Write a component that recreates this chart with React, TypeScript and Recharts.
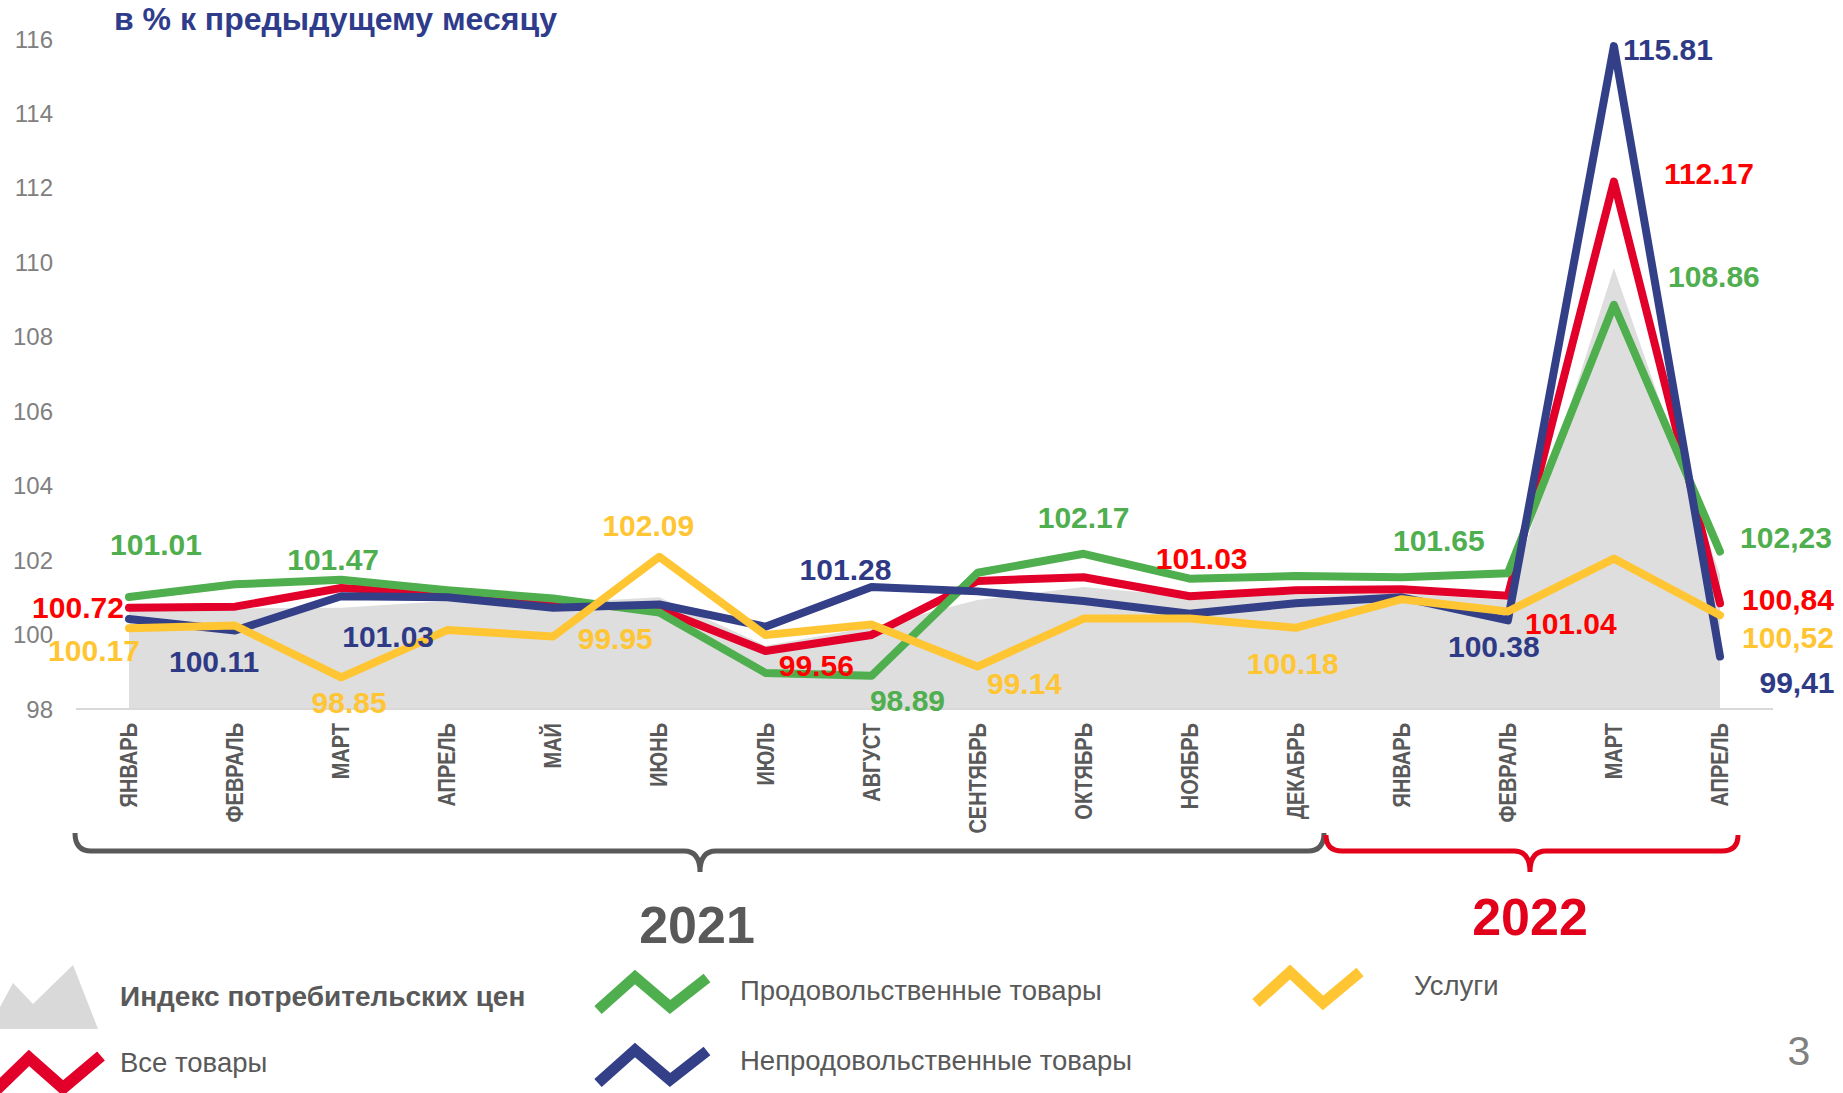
import React from "react";
import { ComposedChart, Area, Line, XAxis, YAxis, LabelList } from "recharts";

// ─── Данные: индексы цен, в % к предыдущему месяцу ───
const months = [
  "ЯНВАРЬ", "ФЕВРАЛЬ", "МАРТ", "АПРЕЛЬ", "МАЙ", "ИЮНЬ", "ИЮЛЬ", "АВГУСТ",
  "СЕНТЯБРЬ", "ОКТЯБРЬ", "НОЯБРЬ", "ДЕКАБРЬ", "ЯНВАРЬ", "ФЕВРАЛЬ", "МАРТ", "АПРЕЛЬ",
];
const cpi = [100.67, 100.7, 100.72, 100.9, 100.85, 101.0, 99.7, 100.2, 100.93, 101.28, 101.02, 101.07, 101.1, 100.92, 109.85, 101.6];
const allGoods = [100.72, 100.75, 101.25, 101.1, 100.87, 100.68, 99.56, 99.99, 101.44, 101.54, 101.03, 101.19, 101.22, 101.04, 112.17, 100.84];
const food = [101.01, 101.35, 101.47, 101.19, 100.97, 100.59, 98.97, 98.89, 101.66, 102.17, 101.5, 101.57, 101.54, 101.65, 108.86, 102.23];
const nonFood = [100.42, 100.11, 101.03, 101.0, 100.72, 100.81, 100.21, 101.28, 101.16, 100.9, 100.56, 100.84, 101.0, 100.38, 115.81, 99.41];
const services = [100.17, 100.24, 98.85, 100.12, 99.95, 102.09, 99.99, 100.27, 99.14, 100.43, 100.43, 100.18, 100.95, 100.62, 102.04, 100.52];
const yTicks = [98, 100, 102, 104, 106, 108, 110, 112, 114, 116];

// подписи значений (null — без подписи)
const foodLabels = ["101.01", null, "101.47", null, null, null, null, "98.89", null, "102.17", null, null, null, "101.65", "108.86", "102,23"];
const goodsLabels = ["100.72", null, null, null, null, null, "99.56", null, null, null, "101.03", null, null, "101.04", "112.17", "100,84"];
const nonFoodLabels = [null, "100.11", "101.03", null, null, null, null, "101.28", null, null, null, null, null, "100.38", "115.81", "99,41"];
const servicesLabels = ["100.17", null, "98.85", null, "99.95", "102.09", null, null, "99.14", null, null, "100.18", null, null, null, "100,52"];

const data = months.map((month, i) => ({
  month,
  cpi: cpi[i],
  allGoods: allGoods[i],
  food: food[i],
  nonFood: nonFood[i],
  services: services[i],
}));

// ─── Стили ───
const FONT = "'Liberation Sans', Arial, sans-serif";
const COLORS = {
  cpi: "#dedede",
  red: "#e2002a",
  redText: "#ff0000",
  green: "#4fae4e",
  blue: "#333f87",
  yellow: "#ffc533",
  axisText: "#808080",
  tickText: "#595959",
};

// смещения подписей относительно точки (dx, dy)
const OFFSETS: Record<string, Record<number, [number, number]>> = {
  food: { 0: [27, -52], 2: [-8, -20], 7: [36, 25], 9: [0, -36], 13: [-69, -33], 14: [100, -28], 15: [66, -14] },
  allGoods: { 0: [-51, 0], 6: [51, 15], 10: [12, -38], 13: [63, 28], 14: [95, -8], 15: [68, -4] },
  nonFood: { 1: [-21, 31], 2: [47, 40], 7: [-26, -17], 13: [-14, 26], 14: [54, 3], 15: [77, 26] },
  services: { 0: [-35, 22], 2: [8, 25], 4: [62, 2], 5: [-11, -31], 8: [47, 17], 11: [-3, 36], 15: [68, 22] },
};

const makeLabel = (texts: (string | null)[], key: string, color: string) => (props: any) => {
  const { x, y, index } = props;
  const text = texts[index];
  if (!text) return null;
  const [dx, dy] = OFFSETS[key][index] || [0, -30];
  return (
    <text
      x={x + dx}
      y={y + dy}
      textAnchor="middle"
      dominantBaseline="central"
      fill={color}
      fontFamily={FONT}
      fontWeight="bold"
      fontSize={30}
    >
      {text}
    </text>
  );
};

const MonthTick = (props: any) => {
  const { x, y, payload } = props;
  return (
    <g transform={`translate(${x},${y}) rotate(-90)`}>
      <text
        transform="scale(1,1.2)"
        textAnchor="end"
        dominantBaseline="central"
        fill={COLORS.tickText}
        fontFamily={FONT}
        fontWeight="bold"
        fontSize={20}
      >
        {payload.value}
      </text>
    </g>
  );
};

const brace = (x0: number, x1: number, tip: number, yTop: number, yh: number, yTip: number) =>
  `M${x0},${yTop} Q${x0},${yh} ${x0 + 16},${yh} L${tip - 16},${yh} Q${tip},${yh} ${tip},${yTip} ` +
  `Q${tip},${yh} ${tip + 16},${yh} L${x1 - 16},${yh} Q${x1},${yh} ${x1},${yTop}`;

function Overlay() {
  const legendText = { fontFamily: FONT, fontSize: 27.5, fill: COLORS.tickText };
  return (
    <svg
      width={1843}
      height={1093}
      style={{ position: "absolute", left: 0, top: 0, pointerEvents: "none" }}
    >
      <text x={114} y={30} fontFamily={FONT} fontWeight="bold" fontSize={32} fill="#2f3c8c">
        в % к предыдущему месяцу
      </text>

      {/* фигурные скобки по годам */}
      <path d={brace(75, 1324, 700, 833, 851, 872)} fill="none" stroke="#595959" strokeWidth={5} />
      <path d={brace(1326, 1738, 1530, 835, 851, 872)} fill="none" stroke="#e3001b" strokeWidth={5} />
      <text x={697} y={943} textAnchor="middle" fontFamily={FONT} fontWeight="bold" fontSize={52} fill="#595959">
        2021
      </text>
      <text x={1530} y={935} textAnchor="middle" fontFamily={FONT} fontWeight="bold" fontSize={52} fill="#e3001b">
        2022
      </text>

      {/* легенда */}
      <polygon points="0,1029 0,1007 13,983 33,1004 73,965 98,1029" fill="#d9d9d9" />
      <text x={120} y={1006} {...legendText} fontSize={28} fontWeight="bold">
        Индекс потребительских  цен
      </text>
      <polyline points="-4,1090 29,1058 63,1088 101,1056" fill="none" stroke={COLORS.red} strokeWidth={12} />
      <text x={120} y={1072} {...legendText}>Все товары</text>

      <polyline points="598,1010 635,977 670,1007 707,978" fill="none" stroke={COLORS.green} strokeWidth={11} />
      <text x={740} y={1000} {...legendText}>Продовольственные товары</text>
      <polyline points="598,1083 635,1050 670,1080 707,1051" fill="none" stroke={COLORS.blue} strokeWidth={11} />
      <text x={740} y={1070} {...legendText}>Непродовольственные товары</text>

      <polyline points="1256,1003 1290,972 1323,1003 1360,972" fill="none" stroke={COLORS.yellow} strokeWidth={11} />
      <text x={1414} y={995} {...legendText}>Услуги</text>

      <text x={1799} y={1065} textAnchor="middle" fontFamily={FONT} fontSize={41} fill="#808080">
        3
      </text>
    </svg>
  );
}

export default function App() {
  return (
    <div style={{ position: "absolute", left: 0, top: 0, width: 1843, height: 1093, background: "#fff" }}>
      <ComposedChart
        width={1843}
        height={1093}
        data={data}
        margin={{ top: 39, right: 70, bottom: 264, left: 6 }}
      >
        <XAxis
          dataKey="month"
          height={120}
          interval={0}
          padding={{ left: 53, right: 53 }}
          tick={<MonthTick />}
          tickLine={false}
          tickSize={0}
          tickMargin={14}
          axisLine={{ stroke: "#d9d9d9", strokeWidth: 2 }}
        />
        <YAxis
          width={70}
          domain={[98, 116]}
          ticks={yTicks}
          allowDataOverflow
          axisLine={false}
          tickLine={false}
          tickSize={0}
          tickMargin={23}
          tick={{ fill: COLORS.axisText, fontSize: 24, fontFamily: FONT }}
        />
        <Area
          type="linear"
          dataKey="cpi"
          stroke="none"
          fill={COLORS.cpi}
          fillOpacity={1}
          isAnimationActive={false}
        />
        <Line type="linear" dataKey="allGoods" stroke={COLORS.red} strokeWidth={8} dot={false} activeDot={false}
          strokeLinecap="round" strokeLinejoin="round" isAnimationActive={false}>
          <LabelList dataKey="allGoods" content={makeLabel(goodsLabels, "allGoods", COLORS.redText)} />
        </Line>
        <Line type="linear" dataKey="food" stroke={COLORS.green} strokeWidth={8} dot={false} activeDot={false}
          strokeLinecap="round" strokeLinejoin="round" isAnimationActive={false}>
          <LabelList dataKey="food" content={makeLabel(foodLabels, "food", COLORS.green)} />
        </Line>
        <Line type="linear" dataKey="nonFood" stroke={COLORS.blue} strokeWidth={8} dot={false} activeDot={false}
          strokeLinecap="round" strokeLinejoin="round" isAnimationActive={false}>
          <LabelList dataKey="nonFood" content={makeLabel(nonFoodLabels, "nonFood", "#2f3a86")} />
        </Line>
        <Line type="linear" dataKey="services" stroke={COLORS.yellow} strokeWidth={8} dot={false} activeDot={false}
          strokeLinecap="round" strokeLinejoin="round" isAnimationActive={false}>
          <LabelList dataKey="services" content={makeLabel(servicesLabels, "services", COLORS.yellow)} />
        </Line>
      </ComposedChart>
      <Overlay />
    </div>
  );
}
